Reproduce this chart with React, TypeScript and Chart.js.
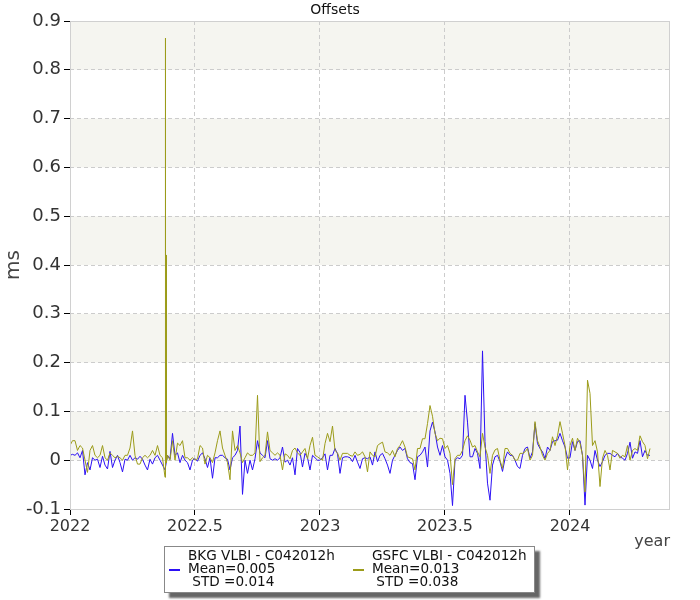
import React, { useEffect, useRef } from "react";
import { Chart, registerables } from "chart.js";

Chart.register(...registerables);

// ---- data ----
const START_YEAR = 2022;
const YEAR_STEP = 0.01;

const bkgValues = [
  0.01, 0.012, 0.01, 0.015, 0.005, 0.02, -0.03, -0.005, -0.02, 0.005,
  0.0, 0.002, -0.015, 0.008, -0.01, -0.018, 0.018, -0.015, 0.0, 0.01,
  -0.005, -0.024, 0.002, 0.0, 0.01, 0.0, 0.005, 0.002, 0.008, 0.002,
  -0.01, -0.02, 0.002, -0.008, 0.005, 0.01, 0.0, -0.01, -0.02, 0.01,
  0.003, 0.055, 0.01, 0.015, -0.005, 0.01, 0.0, -0.005, -0.02, 0.0,
  0.003, -0.002, 0.01, 0.015, 0.003, -0.015, 0.005, -0.037, 0.005, 0.005,
  0.01, 0.01, 0.005, 0.002, -0.02, 0.005, 0.01, 0.02, 0.07, -0.07,
  0.0, -0.027, 0.0, -0.02, 0.003, 0.04, 0.015, 0.01, 0.005, 0.04,
  0.003, 0.0, 0.003, 0.0, 0.005, 0.027, -0.004, 0.0, -0.01, 0.005,
  -0.03, 0.024, 0.016, -0.014, 0.014, 0.005, -0.02, 0.01, 0.005, 0.0,
  0.0, 0.005, 0.013, -0.02, 0.01, 0.01, 0.024, 0.013, -0.027, 0.005,
  0.007, 0.007, 0.005, -0.003, 0.01, -0.004, -0.017, 0.003, 0.005, 0.003,
  0.007, -0.01, 0.017, -0.003, 0.01, 0.014, 0.003, -0.01, -0.027, 0.0,
  0.01, 0.02, 0.027, 0.02, 0.024, 0.003, -0.005, -0.007, -0.04, 0.007,
  0.01, 0.017, 0.027, -0.014, 0.06, 0.078, 0.058, 0.027, 0.01, 0.03,
  0.007, 0.0, -0.027, -0.093, 0.0, 0.005, 0.003, 0.01, 0.133, 0.078,
  0.007, 0.007, 0.024, 0.014, -0.017, 0.224, 0.038, -0.047, -0.082, -0.01,
  0.007, 0.01, -0.003, -0.023, 0.003, 0.017, 0.01, 0.01, 0.0, -0.013,
  -0.017, 0.01, 0.024, 0.027, 0.004, 0.017, 0.075, 0.034, 0.024, 0.017,
  0.003, 0.027, 0.02, 0.038, 0.04, 0.041, 0.055, 0.04, 0.027, 0.004,
  0.005, 0.038, 0.02, 0.038, 0.04, 0.01, -0.092, 0.01, 0.0, -0.017,
  0.02, 0.0, -0.013, -0.003, 0.01, 0.014, 0.014, 0.01, 0.007, 0.014,
  0.007, 0.004, 0.0, 0.014, 0.037, 0.004, 0.017, 0.014, 0.04, 0.007,
  0.02, 0.01, 0.01,
];

const gsfcValues = [
  0.03, 0.04, 0.04, 0.02, 0.03, 0.025, 0.0, -0.025, 0.02, 0.03,
  0.01, 0.005, 0.01, 0.03, 0.005, 0.0, 0.015, 0.01, 0.005, 0.008,
  0.005, 0.0, 0.01, 0.01, 0.025, 0.06, 0.01, -0.008, -0.008, 0.005,
  0.01, 0.005, 0.01, 0.02, 0.01, 0.03, 0.01, 0.005, -0.035, 0.01,
  0.0, 0.04, 0.0, 0.035, 0.03, 0.04, 0.005, 0.005, 0.0, 0.005,
  0.0, 0.003, 0.03, 0.025, -0.008, 0.01, 0.005, -0.005, 0.015, 0.04,
  0.06, 0.025, 0.01, -0.005, -0.04, 0.06, 0.02, 0.03, 0.015, -0.005,
  0.005, 0.015, 0.01, 0.01, 0.015, 0.133, -0.003, 0.005, 0.01, 0.058,
  0.02, 0.015, 0.01, 0.015, 0.01, -0.02, 0.013, 0.01, 0.003, 0.02,
  0.025, 0.015, 0.01, 0.017, 0.024, 0.003, 0.03, 0.047, 0.01, 0.007,
  0.003, 0.0, 0.034, 0.055, 0.038, 0.07, 0.02, 0.015, 0.0, 0.014,
  0.014, 0.014, 0.01, 0.008, 0.017, 0.01, 0.012, 0.017, 0.007, -0.024,
  0.017, 0.01, 0.007, 0.03, 0.034, 0.037, 0.017, 0.015, 0.01, 0.02,
  0.007, 0.024, 0.03, 0.04, 0.027, 0.007, 0.005, 0.003, -0.02, 0.024,
  0.024, 0.044, 0.044, 0.075, 0.112, 0.09, 0.055, 0.04, 0.045, 0.044,
  0.024, 0.03, 0.014, -0.05, 0.003, 0.01, 0.01, 0.02, 0.04, 0.05,
  0.041, 0.027, 0.03, 0.017, 0.007, 0.055, 0.027, 0.01, -0.027, 0.01,
  0.021, 0.024, 0.0, -0.017, 0.024, 0.024, 0.014, 0.01, 0.0, 0.0,
  0.014, 0.014, 0.017, 0.024, 0.0, 0.01, 0.079, 0.04, 0.027, 0.01,
  0.0, 0.014, 0.02, 0.048, 0.03, 0.05, 0.079, 0.055, 0.03, -0.02,
  0.03, 0.045, 0.02, 0.045, 0.035, 0.01, -0.065, 0.164, 0.137, 0.03,
  0.04, 0.017, -0.054, 0.004, 0.02, 0.01, -0.02, 0.02, 0.017, 0.014,
  0.004, 0.01, 0.007, 0.03, 0.0, 0.02, 0.024, 0.02, 0.05, 0.038,
  0.03, 0.003, 0.024,
];

// extra dense sessions around the large GSFC outlier (mid-May 2022)
const gsfcSpikeYears = [2022.3802, 2022.382, 2022.3825, 2022.383, 2022.385, 2022.3856];
const gsfcSpikeValues = [0.42, 0.42, 0.865, 0.42, 0.42, -0.005];

const seriesNames = ["BKG VLBI - C042012h", "GSFC VLBI - C042012h"];
const seriesMeans = ["0.005", "0.013"];
const seriesStds = ["0.014", "0.038"];
const seriesColors = ["#2c10f5", "#9c9c1a"];

const X_MIN = 2022;
const X_MAX = 2024.4;
const X_STEP = 0.5;
const Y_MIN = -0.1;
const Y_MAX = 0.9;
const Y_STEP = 0.1;

const FONT = "'DejaVu Sans', Verdana, sans-serif";

function buildPoints(values: number[], extraX: number[] = [], extraY: number[] = []) {
  const pts = values.map((v, i) => ({ x: +(START_YEAR + i * YEAR_STEP).toFixed(4), y: v }));
  extraX.forEach((x, k) => pts.push({ x, y: extraY[k] }));
  pts.sort((a, b) => a.x - b.x);
  return pts;
}

const bandsPlugin = {
  id: "bands",
  beforeDraw(chart: any) {
    const { ctx, chartArea, scales } = chart;
    const y = scales.y;
    ctx.save();
    ctx.fillStyle = "#f5f5f0";
    for (let k = 0; k < 5; k++) {
      const lo = k * 0.2;
      const hi = lo + 0.1;
      const yTop = y.getPixelForValue(hi);
      const yBot = y.getPixelForValue(lo);
      ctx.fillRect(chartArea.left, yTop, chartArea.right - chartArea.left, yBot - yTop);
    }
    ctx.restore();
  },
  afterDraw(chart: any) {
    const { ctx, chartArea } = chart;
    ctx.save();
    ctx.strokeStyle = "#d0d0d0";
    ctx.lineWidth = 1;
    const l = Math.round(chartArea.left) + 0.5;
    const t = Math.round(chartArea.top) + 0.5;
    const r = Math.round(chartArea.right) - 0.5;
    const b = Math.round(chartArea.bottom) + 0.5;
    ctx.strokeRect(l, t, r - l, b - t);
    ctx.restore();
  },
};

export default function App() {
  const canvasRef = useRef<HTMLCanvasElement | null>(null);

  useEffect(() => {
    if (!canvasRef.current) return;
    Chart.defaults.font.family = FONT;
    const chart = new Chart(canvasRef.current, {
      type: "line",
      data: {
        datasets: [
          {
            label: seriesNames[0],
            data: buildPoints(bkgValues),
            borderColor: seriesColors[0],
            backgroundColor: seriesColors[0],
            borderWidth: 1,
            pointRadius: 0,
            tension: 0,
            order: 1,
          },
          {
            label: seriesNames[1],
            data: buildPoints(gsfcValues, gsfcSpikeYears, gsfcSpikeValues),
            borderColor: seriesColors[1],
            backgroundColor: seriesColors[1],
            borderWidth: 1,
            pointRadius: 0,
            tension: 0,
            order: 0,
          },
        ],
      },
      options: {
        responsive: false,
        animation: false,
        devicePixelRatio: 1,
        layout: { padding: { left: 0, right: 30, top: 0, bottom: 0 } },
        plugins: {
          legend: { display: false },
          tooltip: { enabled: false },
          title: {
            display: true,
            text: "Offsets",
            color: "#111",
            font: { size: 14, weight: "normal", family: FONT },
            padding: { top: 2, bottom: 2.2 },
          },
        },
        scales: {
          x: {
            type: "linear",
            min: X_MIN,
            max: X_MAX,
            afterBuildTicks: (scale: any) => {
              scale.ticks = scale.ticks.filter(
                (t: any) => Math.abs(t.value / X_STEP - Math.round(t.value / X_STEP)) < 1e-6
              );
            },
            afterFit: (scale: any) => {
              scale.height = 91;
            },
            ticks: {
              stepSize: X_STEP,
              color: "#333",
              font: { size: 16, family: FONT },
              padding: 2,
              maxRotation: 0,
              autoSkip: false,
              callback: (v: any) => String(Math.round(Number(v) * 10) / 10),
            },
            grid: {
              color: "#cccccc",
              lineWidth: 1,
              tickColor: "#000",
              tickLength: 6,
              tickBorderDash: [],
            },
            border: { display: false, dash: [4, 3] },
            title: {
              display: true,
              text: "year",
              align: "end",
              color: "#444",
              font: { size: 16, family: FONT },
              padding: { top: 0, bottom: 48.4 },
            },
          },
          y: {
            type: "linear",
            min: Y_MIN,
            max: Y_MAX,
            afterFit: (scale: any) => {
              scale.width = 70;
            },
            ticks: {
              stepSize: Y_STEP,
              color: "#333",
              font: { size: 18, family: FONT },
              padding: 3,
              callback: (v: any) => {
                const n = Number(v);
                return Math.abs(n) < 1e-9 ? "0" : n.toFixed(1);
              },
            },
            grid: {
              color: "#cccccc",
              lineWidth: 1,
              tickColor: "#000",
              tickLength: 6,
              tickBorderDash: [],
            },
            border: { display: false, dash: [4, 3] },
            title: {
              display: true,
              text: "ms",
              color: "#444",
              font: { size: 20, family: FONT },
              padding: { top: 2, bottom: 0 },
            },
          },
        },
      },
      plugins: [bandsPlugin],
    } as any);
    return () => chart.destroy();
  }, []);

  const textStyle: React.CSSProperties = {
    position: "absolute",
    fontFamily: FONT,
    fontSize: 13.6,
    lineHeight: "13px",
    color: "#111",
    whiteSpace: "pre",
  };

  const legendCols = [
    { markerLeft: 169, textLeft: 188 },
    { markerLeft: 353, textLeft: 372 },
  ];

  return (
    <div style={{ position: "fixed", left: 0, top: 0, width: 700, height: 600, background: "#fff" }}>
      <canvas ref={canvasRef} width={700} height={600} style={{ display: "block", width: 700, height: 600 }} />
      <div
        style={{
          position: "absolute",
          left: 164,
          top: 546,
          width: 369,
          height: 45,
          border: "1px solid #888",
          background: "#fff",
          boxShadow: "5px 5px 2px rgba(0,0,0,0.6)",
        }}
      />
      {legendCols.map((c, k) => (
        <React.Fragment key={k}>
          <div
            style={{
              position: "absolute",
              left: c.markerLeft,
              top: 569,
              width: 11,
              height: 2,
              background: seriesColors[k],
            }}
          />
          <div style={{ ...textStyle, left: c.textLeft, top: 549 }}>{seriesNames[k]}</div>
          <div style={{ ...textStyle, left: c.textLeft, top: 562 }}>{"Mean=" + seriesMeans[k]}</div>
          <div style={{ ...textStyle, left: c.textLeft, top: 575 }}>{" STD =" + seriesStds[k]}</div>
        </React.Fragment>
      ))}
    </div>
  );
}
